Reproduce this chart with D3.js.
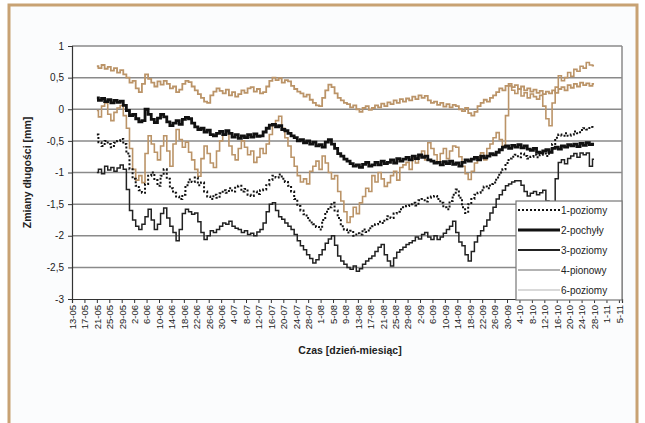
<!DOCTYPE html>
<html>
<head>
<meta charset="utf-8">
<script src="https://cdn.jsdelivr.net/npm/d3@7"></script>
<style>
body{margin:0;background:#fff;}
svg{display:block;font-family:"Liberation Sans",Arial,sans-serif;}
</style>
</head>
<body>
<script>
// tick labels of the time axis (day-month)
var tickLabels = ["13-05","17-05","21-05","25-05","29-05","2-06","6-06","10-06","14-06","18-06","22-06","26-06","30-06",
  "4-07","8-07","12-07","16-07","20-07","24-07","28-07","1-08","5-08","9-08","13-08","17-08","21-08","25-08","29-08",
  "2-09","6-09","10-09","14-09","18-09","22-09","26-09","30-09","4-10","8-10","12-10","16-10","20-10","24-10","28-10","1-11","5-11"];
var yTicks = [-3,-2.5,-2,-1.5,-1,-0.5,0,0.5,1];

// one reading per day, from 21-05 to 28-10
var firstDay = "21-05";

var s4 = [0.68,0.65,0.70,0.64,0.67,0.61,0.65,0.58,0.62,0.55,
  0.50,0.42,0.45,0.33,0.27,0.40,0.55,0.48,0.42,0.36,
  0.44,0.39,0.45,0.40,0.33,0.36,0.27,0.31,0.40,0.45,
  0.43,0.36,0.30,0.24,0.18,0.12,0.10,0.22,0.28,0.33,
  0.29,0.25,0.31,0.22,0.27,0.20,0.24,0.30,0.26,0.33,
  0.35,0.28,0.32,0.25,0.27,0.36,0.45,0.50,0.46,0.49,
  0.42,0.46,0.44,0.37,0.32,0.28,0.25,0.20,0.23,0.15,
  0.10,0.06,0.05,0.18,0.30,0.39,0.35,0.25,0.18,0.14,
  0.10,0.08,0.03,0.06,0.00,-0.04,0.02,0.05,-0.01,0.02,
  0.06,0.03,0.09,0.05,0.11,0.08,0.14,0.10,0.16,0.12,
  0.17,0.14,0.20,0.16,0.22,0.18,0.21,0.14,0.10,0.12,
  0.07,0.10,0.04,0.08,0.03,0.07,0.05,0.00,-0.03,0.02,
  -0.06,-0.10,-0.04,0.05,0.10,0.15,0.12,0.18,0.22,0.27,
  0.33,0.30,0.37,0.40,0.35,0.38,0.32,0.36,0.30,0.33,
  0.28,0.31,0.26,0.29,0.24,0.28,0.25,0.30,0.26,0.32,
  0.35,0.30,0.38,0.34,0.40,0.36,0.42,0.38,0.41,0.37,
  0.40];

var s6 = [-0.02,-0.12,0.05,0.10,-0.08,-0.18,-0.05,0.02,0.06,-0.10,
  -0.30,-0.62,-0.95,-1.12,-1.05,-1.16,-0.70,-0.42,-0.55,-0.68,
  -0.80,-0.58,-0.42,-0.66,-0.90,-0.55,-0.32,-0.48,-0.60,-0.52,
  -0.68,-0.80,-0.95,-1.06,-0.78,-0.58,-0.70,-0.85,-0.92,-0.66,
  -0.50,-0.40,-0.36,-0.58,-0.72,-0.80,-0.62,-0.50,-0.60,-0.72,
  -0.66,-0.84,-0.76,-0.62,-0.70,-0.55,-0.40,-0.25,-0.18,-0.11,
  -0.30,-0.45,-0.58,-0.76,-0.90,-1.05,-1.15,-1.10,-1.18,-0.98,
  -0.90,-0.82,-0.95,-0.74,-0.85,-1.00,-1.10,-1.05,-1.30,-1.45,
  -1.62,-1.79,-1.70,-1.55,-1.65,-1.48,-1.38,-1.25,-1.30,-1.05,
  -1.15,-1.00,-1.10,-1.22,-1.16,-1.05,-0.98,-1.12,-0.92,-0.88,
  -0.84,-0.95,-0.78,-0.85,-0.74,-0.66,-0.80,-0.53,-0.62,-0.72,
  -0.84,-0.70,-0.62,-0.78,-0.66,-0.58,-0.60,-0.75,-0.90,-1.02,
  -1.11,-0.98,-0.85,-0.76,-0.69,-0.80,-0.62,-0.55,-0.45,-0.37,
  -0.48,-0.58,-0.10,0.37,0.30,0.25,0.32,0.21,0.26,0.18,
  0.24,0.20,0.16,0.22,0.05,-0.15,-0.26,0.10,0.35,0.53,
  0.45,0.50,0.58,0.52,0.63,0.60,0.68,0.65,0.74,0.70,
  0.69];

var s2 = [0.18,0.14,0.17,0.12,0.15,0.10,0.14,0.11,0.13,0.06,
  -0.02,-0.10,-0.08,-0.15,-0.20,-0.18,0.00,-0.08,-0.16,-0.21,
  -0.14,-0.08,-0.12,-0.20,-0.26,-0.22,-0.18,-0.24,-0.16,-0.13,
  -0.15,-0.22,-0.28,-0.32,-0.30,-0.36,-0.33,-0.40,-0.42,-0.38,
  -0.35,-0.40,-0.34,-0.38,-0.44,-0.40,-0.46,-0.42,-0.45,-0.40,
  -0.44,-0.39,-0.43,-0.42,-0.36,-0.30,-0.25,-0.24,-0.28,-0.26,
  -0.32,-0.34,-0.38,-0.42,-0.45,-0.50,-0.48,-0.53,-0.50,-0.55,
  -0.52,-0.58,-0.56,-0.60,-0.52,-0.48,-0.55,-0.62,-0.70,-0.74,
  -0.79,-0.82,-0.86,-0.90,-0.88,-0.92,-0.87,-0.84,-0.90,-0.88,
  -0.84,-0.88,-0.82,-0.86,-0.84,-0.80,-0.85,-0.78,-0.82,-0.79,
  -0.76,-0.80,-0.74,-0.78,-0.72,-0.76,-0.74,-0.80,-0.82,-0.85,
  -0.84,-0.88,-0.83,-0.86,-0.82,-0.87,-0.85,-0.90,-0.84,-0.80,
  -0.82,-0.79,-0.76,-0.80,-0.74,-0.77,-0.74,-0.70,-0.72,-0.68,
  -0.64,-0.60,-0.58,-0.62,-0.57,-0.60,-0.56,-0.61,-0.58,-0.63,
  -0.65,-0.62,-0.68,-0.69,-0.66,-0.64,-0.68,-0.62,-0.60,-0.63,
  -0.58,-0.60,-0.56,-0.58,-0.55,-0.59,-0.54,-0.57,-0.53,-0.56,
  -0.55];

var s1 = [-0.40,-0.52,-0.58,-0.50,-0.55,-0.60,-0.53,-0.50,-0.47,-0.55,
  -0.70,-0.95,-1.10,-1.21,-1.28,-1.32,-1.18,-1.05,-1.00,-1.12,
  -1.21,-1.05,-0.95,-1.10,-1.25,-1.32,-1.38,-1.42,-1.35,-1.20,
  -1.11,-1.15,-1.08,-1.20,-1.16,-1.30,-1.38,-1.42,-1.35,-1.40,
  -1.33,-1.28,-1.32,-1.25,-1.30,-1.22,-1.21,-1.30,-1.26,-1.35,
  -1.37,-1.30,-1.34,-1.28,-1.27,-1.20,-1.12,-1.05,-1.08,-1.03,
  -1.10,-1.15,-1.21,-1.30,-1.42,-1.53,-1.60,-1.66,-1.72,-1.79,
  -1.82,-1.86,-1.90,-1.75,-1.62,-1.55,-1.48,-1.60,-1.72,-1.85,
  -1.90,-1.95,-1.92,-2.00,-1.96,-1.98,-1.90,-1.94,-1.88,-1.85,
  -1.82,-1.78,-1.80,-1.74,-1.69,-1.72,-1.65,-1.62,-1.58,-1.55,
  -1.53,-1.50,-1.48,-1.52,-1.44,-1.42,-1.46,-1.40,-1.38,-1.37,
  -1.42,-1.48,-1.55,-1.58,-1.45,-1.35,-1.27,-1.40,-1.55,-1.64,
  -1.50,-1.42,-1.35,-1.32,-1.28,-1.22,-1.25,-1.18,-1.16,-1.08,
  -1.00,-0.95,-0.85,-0.78,-0.75,-0.72,-0.76,-0.70,-0.74,-0.78,
  -0.75,-0.72,-0.76,-0.72,-0.70,-0.74,-0.68,-0.55,-0.45,-0.40,
  -0.42,-0.38,-0.42,-0.40,-0.35,-0.38,-0.33,-0.30,-0.32,-0.28,
  -0.30];

var s3 = [-1.00,-0.95,-1.02,-0.90,-0.96,-0.92,-0.98,-0.93,-0.88,-0.95,
  -1.27,-1.60,-1.75,-1.85,-1.90,-1.82,-1.70,-1.58,-1.75,-1.90,
  -1.82,-1.65,-1.56,-1.72,-1.85,-1.95,-2.08,-1.90,-1.65,-1.58,
  -1.62,-1.66,-1.64,-1.78,-1.95,-2.06,-2.00,-1.92,-1.95,-1.90,
  -1.85,-1.80,-1.82,-1.77,-1.85,-1.88,-1.90,-1.95,-1.92,-1.98,
  -1.96,-2.00,-1.94,-1.90,-1.80,-1.62,-1.50,-1.48,-1.60,-1.70,
  -1.74,-1.80,-1.85,-1.90,-1.98,-2.08,-2.16,-2.22,-2.30,-2.36,
  -2.43,-2.38,-2.30,-2.22,-2.12,-2.05,-2.00,-2.15,-2.32,-2.40,
  -2.45,-2.50,-2.53,-2.48,-2.56,-2.52,-2.45,-2.40,-2.36,-2.32,
  -2.25,-2.18,-2.14,-2.30,-2.40,-2.48,-2.35,-2.26,-2.22,-2.18,
  -2.14,-2.11,-2.08,-2.02,-2.05,-1.98,-1.95,-2.02,-2.06,-2.00,
  -2.06,-2.02,-1.96,-1.90,-1.85,-1.77,-1.95,-2.10,-2.16,-2.30,
  -2.40,-2.25,-2.10,-2.00,-1.92,-1.85,-1.75,-1.64,-1.55,-1.42,
  -1.35,-1.28,-1.21,-1.18,-1.15,-1.13,-1.13,-1.20,-1.30,-1.37,
  -1.33,-1.30,-1.35,-1.32,-1.28,-1.45,-1.62,-1.50,-1.10,-0.84,
  -0.80,-0.86,-0.78,-0.74,-0.70,-0.76,-0.69,-0.72,-0.69,-0.90,
  -0.79];

var seriesNames = ["1-poziomy","2-pochyły","3-poziomy","4-pionowy","6-poziomy"];

var W = 645, H = 423;
var plot = {left:72, top:46, right:622, bottom:299};

var parseDM = function(s){ return d3.timeParse("%d-%m-%Y")(s + "-2007"); };

var svg = d3.select("body").append("svg").attr("width",W).attr("height",H);

// frame
svg.append("rect").attr("x",0).attr("y",0).attr("width",W).attr("height",H).attr("fill","#fff");
svg.append("rect").attr("x",9).attr("y",5).attr("width",628).attr("height",H)
  .attr("fill","#fbfcfd").attr("stroke","#c8a273").attr("stroke-width",3);

var x = d3.scaleTime()
  .domain([parseDM("13-05"), d3.timeDay.offset(parseDM("5-11"),1)])
  .range([plot.left, plot.right]);
var y = d3.scaleLinear().domain([-3,1]).range([plot.bottom, plot.top]);

var start = parseDM(firstDay);
var dates = s1.map(function(d,i){ return d3.timeDay.offset(start,i); });

svg.append("rect").attr("x",plot.left).attr("y",plot.top)
  .attr("width",plot.right-plot.left).attr("height",plot.bottom-plot.top).attr("fill","#fff");

// grid
svg.append("g").selectAll("line").data(yTicks.filter(function(d){return d>-3;})).join("line")
  .attr("x1",plot.left).attr("x2",plot.right)
  .attr("y1",function(d){return y(d);}).attr("y2",function(d){return y(d);})
  .attr("stroke","#8a8a8a").attr("stroke-width",1.5);
svg.append("line").attr("x1",plot.right).attr("x2",plot.right).attr("y1",plot.top).attr("y2",plot.bottom)
  .attr("stroke","#8a8a8a").attr("stroke-width",1.5);

// axes
var fmt = function(d){ return String(d).replace(".",","); };
var yAxis = svg.append("g").attr("transform","translate("+plot.left+",0)")
  .call(d3.axisLeft(y).tickValues(yTicks).tickFormat(fmt).tickSize(4).tickPadding(4));
var tickDates = tickLabels.map(parseDM);
var xAxis = svg.append("g").attr("transform","translate(0,"+plot.bottom+")")
  .call(d3.axisBottom(x).tickValues(tickDates).tickSize(4)
    .tickFormat(function(d,i){ return tickLabels[i]; }));
[yAxis,xAxis].forEach(function(g){
  g.select(".domain").attr("stroke","#333").attr("stroke-width",1.2);
  g.selectAll(".tick line").attr("stroke","#333");
  g.selectAll("text").attr("fill","#222").attr("font-size",10).attr("font-family","Liberation Sans, Arial, sans-serif");
});
xAxis.selectAll("text").attr("transform","rotate(-90)").attr("text-anchor","end")
  .attr("x",-6).attr("y",0).attr("dy","0.35em").attr("font-size",9.5);

// lines (stepped, like the logger readings)
var line = d3.line()
  .curve(d3.curveStep)
  .x(function(d,i){ return x(dates[i]); })
  .y(function(d){ return y(d); });

var styles = [
  {data:s4, color:"#bb9468", width:1.8, dash:null},
  {data:s6, color:"#bb9468", width:1.6, dash:null},
  {data:s2, color:"#111", width:2.8, dash:null},
  {data:s3, color:"#222", width:1.5, dash:null},
  {data:s1, color:"#111", width:2, dash:"2,2"}
];
styles.forEach(function(s){
  svg.append("path").datum(s.data).attr("d",line)
    .attr("fill","none").attr("stroke",s.color).attr("stroke-width",s.width)
    .attr("stroke-dasharray",s.dash);
});

// titles
svg.append("text").attr("x",350).attr("y",354).attr("text-anchor","middle")
  .attr("font-size",10.5).attr("font-weight","bold").attr("fill","#222").text("Czas [dzień-miesiąc]");
svg.append("text").attr("transform","translate(31,"+((plot.top+plot.bottom)/2)+") rotate(-90)")
  .attr("text-anchor","middle").attr("font-size",10.5).attr("font-weight","bold").attr("fill","#222")
  .text("Zmiany długości [mm]");

// legend
var leg = svg.append("g").attr("transform","translate(516,201)");
leg.append("rect").attr("width",106).attr("height",99).attr("fill","#fff")
  .attr("stroke","#777").attr("stroke-width",1.2);
var legStyle = [
  {color:"#111", width:1.8, dash:"2,2"},
  {color:"#111", width:2.8, dash:null},
  {color:"#222", width:1.8, dash:null},
  {color:"#b3b3b3", width:1.8, dash:null},
  {color:"#cccccc", width:1.5, dash:null}
];
seriesNames.forEach(function(n,i){
  var yy = 9 + i*20;
  leg.append("line").attr("x1",2).attr("x2",44).attr("y1",yy).attr("y2",yy)
    .attr("stroke",legStyle[i].color).attr("stroke-width",legStyle[i].width)
    .attr("stroke-dasharray",legStyle[i].dash);
  leg.append("text").attr("x",45).attr("y",yy).attr("dy","0.35em")
    .attr("font-size",10).attr("fill","#222").text(n);
});
</script>
</body>
</html>
